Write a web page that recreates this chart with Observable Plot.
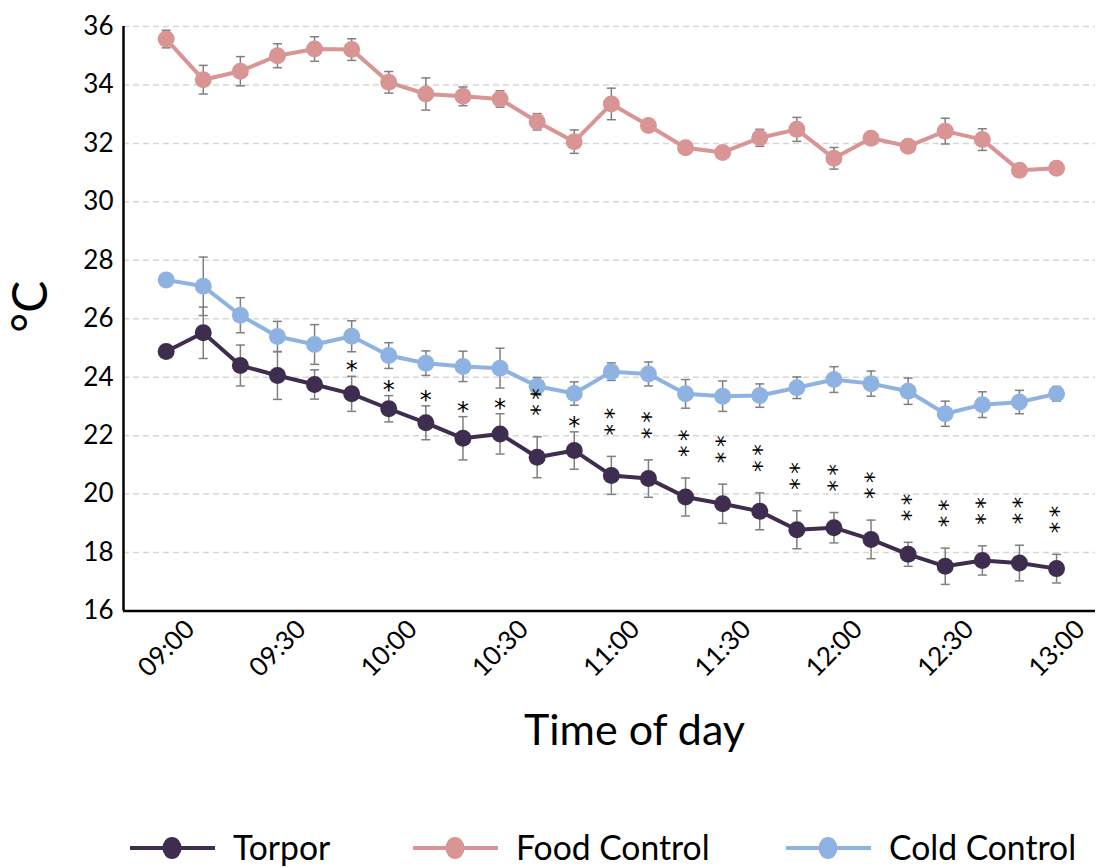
<!DOCTYPE html>
<html>
<head>
<meta charset="utf-8">
<script src="https://cdn.jsdelivr.net/npm/d3@7"></script>
<script src="https://cdn.jsdelivr.net/npm/@observablehq/plot@0.6"></script>
<style>
  body { margin: 0; background: #fff; font-family: Lato, "Open Sans", sans-serif; }
  #chart, #legend { width: 1097px; display: block; }
</style>
</head>
<body>
<div id="chart"></div>
<svg id="legend" width="1097" height="78"></svg>
<script>
// Sampling times (every 10 minutes)
const times = ["09:00","09:10","09:20","09:30","09:40","09:50","10:00","10:10","10:20","10:30",
               "10:40","10:50","11:00","11:10","11:20","11:30","11:40","11:50","12:00","12:10",
               "12:20","12:30","12:40","12:50","13:00"];
const tickLabels = ["09:00","09:30","10:00","10:30","11:00","11:30","12:00","12:30","13:00"];
const yTicks = [16, 18, 20, 22, 24, 26, 28, 30, 32, 34, 36];

// Mean body temperature (°C) and standard error per group
const torpor   = [24.88, 25.52, 24.40, 24.06, 23.75, 23.43, 22.92, 22.44, 21.91, 22.06, 21.26, 21.49, 20.64,
                  20.53, 19.90, 19.67, 19.41, 18.78, 18.85, 18.45, 17.94, 17.53, 17.73, 17.64, 17.45];
const torporSE = [0.10, 0.88, 0.70, 0.82, 0.50, 0.60, 0.45, 0.58, 0.74, 0.69, 0.70, 0.64, 0.65,
                  0.64, 0.65, 0.67, 0.63, 0.65, 0.52, 0.66, 0.41, 0.62, 0.50, 0.61, 0.49];
const food     = [35.57, 34.18, 34.47, 35.00, 35.23, 35.21, 34.09, 33.69, 33.61, 33.52, 32.74, 32.06, 33.35,
                  32.61, 31.85, 31.69, 32.19, 32.48, 31.49, 32.18, 31.90, 32.42, 32.13, 31.08, 31.15];
const foodSE   = [0.30, 0.49, 0.50, 0.41, 0.42, 0.37, 0.37, 0.55, 0.32, 0.28, 0.28, 0.40, 0.54,
                  0.10, 0.10, 0.20, 0.29, 0.41, 0.37, 0.10, 0.10, 0.44, 0.37, 0.10, 0.10];
const cold     = [27.33, 27.11, 26.12, 25.39, 25.12, 25.40, 24.74, 24.48, 24.37, 24.31, 23.69, 23.44, 24.19,
                  24.11, 23.43, 23.35, 23.37, 23.64, 23.92, 23.78, 23.52, 22.75, 23.06, 23.15, 23.43];
const coldSE   = [0.10, 1.00, 0.60, 0.52, 0.68, 0.53, 0.44, 0.42, 0.52, 0.68, 0.30, 0.40, 0.30,
                  0.41, 0.49, 0.52, 0.40, 0.37, 0.44, 0.43, 0.45, 0.43, 0.44, 0.40, 0.25];
// Significance of Torpor vs controls at each time
const significance = ["", "", "", "", "", "*", "*", "*", "*", "*", "**", "*", "**",
                      "**", "**", "**", "**", "**", "**", "**", "**", "**", "**", "**", "**"];

const seriesNames  = ["Torpor", "Food Control", "Cold Control"];
const seriesColors = ["#3f2d50", "#d99594", "#8eb3e2"];

const toMinutes = t => { const [h, m] = t.split(":").map(Number); return (h - 9) * 60 + m; };

const groups = [
  {name: seriesNames[0], values: torpor, se: torporSE},
  {name: seriesNames[1], values: food,   se: foodSE},
  {name: seriesNames[2], values: cold,   se: coldSE}
];
const rows = groups.flatMap(g => g.values.map((v, i) => ({
  series: g.name, t: toMinutes(times[i]), v, se: g.se[i], sig: g.name === "Torpor" ? significance[i] : ""
})));
const torporRows = rows.filter(d => d.series === "Torpor");

// Horizontal cap used at both ends of the error bars
const capSymbol = {
  draw(ctx, size) { const r = Math.sqrt(size / Math.PI); ctx.moveTo(-r, 0); ctx.lineTo(r, 0); }
};

const xDomain = [-11.5, 250.5];
const starFont = "'DejaVu Sans', sans-serif";

const lineMarks = seriesNames.map((name, k) =>
  Plot.line(rows.filter(d => d.series === name), {x: "t", y: "v", stroke: seriesColors[k], strokeWidth: 4})
);
const barMarks = [
  Plot.ruleX(rows, {x: "t", y1: d => d.v - d.se, y2: d => d.v + d.se, stroke: "#7f7f7f", strokeWidth: 1.5}),
  Plot.dot(rows, {x: "t", y: d => d.v + d.se, symbol: capSymbol, r: 4.5, stroke: "#7f7f7f", strokeWidth: 1.5, fill: "none"}),
  Plot.dot(rows, {x: "t", y: d => d.v - d.se, symbol: capSymbol, r: 4.5, stroke: "#7f7f7f", strokeWidth: 1.5, fill: "none"})
];
const dotMarks = seriesNames.map((name, k) =>
  Plot.dot(rows.filter(d => d.series === name), {x: "t", y: "v", r: 8.5, fill: seriesColors[k], stroke: "none"})
);

const chart = Plot.plot({
  width: 1097,
  height: 790,
  marginLeft: 123,
  marginRight: 2,
  marginTop: 26,
  marginBottom: 179.5,
  x: {domain: xDomain},
  y: {domain: [16, 36]},
  style: {fontFamily: "Lato, 'Open Sans', sans-serif", color: "#000", background: "#fff", overflow: "visible"},
  marks: [
    Plot.gridY(yTicks.filter(d => d > 16), {stroke: "#d6d6d6", strokeOpacity: 1, strokeWidth: 1.5, strokeDasharray: "6,4"}),
    Plot.axisY({ticks: yTicks, tickSize: 0, tickPadding: 10, fontSize: 26, label: null}),
    Plot.axisX({
      ticks: tickLabels.map(toMinutes),
      tickFormat: d => tickLabels[Math.round(d / 30)],
      tickRotate: -45, tickSize: 0, tickPadding: 14, fontSize: 26, label: null,
      textAnchor: "end", lineAnchor: "middle", dx: 24
    }),
    ...lineMarks,
    ...barMarks,
    ...dotMarks,
    Plot.ruleX([xDomain[0]], {stroke: "#000", strokeWidth: 2.5}),
    Plot.ruleY([16], {stroke: "#000", strokeWidth: 2.5}),
    // significance stars above the Torpor error bars
    Plot.text(torporRows.filter(d => d.sig === "*"), {
      x: "t", y: d => d.v + d.se, text: "sig", fontSize: 24, fontFamily: starFont,
      lineAnchor: "bottom", dy: 2, fill: "#000"
    }),
    // double stars stacked vertically: the pair is set as one word running downwards
    Plot.text(torporRows.filter(d => d.sig === "**"), {
      x: "t", y: d => d.v + d.se, text: d => d.sig.split("").join("\u2009"), fontSize: 23, fontFamily: starFont,
      rotate: 90, textAnchor: "end", lineAnchor: "middle", dx: -6, dy: -21, fill: "#000"
    }),
    // axis titles
    Plot.text(["°C"], {frameAnchor: "left", text: d => d, rotate: -90, dx: -92, dy: 14, fontSize: 48, fill: "#000"}),
    Plot.text(["Time of day"], {frameAnchor: "bottom", text: d => d, dy: 134, dx: 25, fontSize: 43, fill: "#000"})
  ]
});
document.getElementById("chart").appendChild(chart);

// Legend: line with a marker, then the group name
const legendX = [172, 455, 828];
const legend = d3.select("#legend");
seriesNames.forEach((name, k) => {
  const g = legend.append("g").attr("transform", `translate(${legendX[k]},58)`);
  g.append("line").attr("x1", -42).attr("x2", 43).attr("y1", 0).attr("y2", 0)
    .attr("stroke", seriesColors[k]).attr("stroke-width", 4);
  g.append("ellipse").attr("rx", 9.5).attr("ry", 11).attr("fill", seriesColors[k]);
  g.append("text").attr("transform", "translate(61,12) scale(0.99,1)")
    .attr("font-size", 34).attr("font-family", "Lato, 'Open Sans', sans-serif").attr("fill", "#000")
    .text(name);
});
</script>
</body>
</html>
